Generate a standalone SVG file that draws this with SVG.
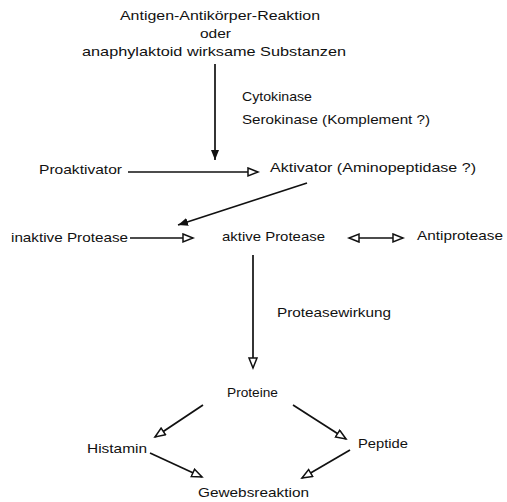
<svg xmlns="http://www.w3.org/2000/svg" width="507" height="502" viewBox="0 0 507 502">
<style>
text{font-family:"Liberation Sans",Arial,sans-serif;font-size:13.5px;fill:#111}
.c line{stroke:#111;stroke-width:1.7}
</style>
<defs>
<marker id="fh" markerUnits="userSpaceOnUse" markerWidth="12" markerHeight="10" refX="10" refY="4" orient="auto"><path d="M0,0 L10,4 L0,8 Z" fill="#111"/></marker>
<marker id="oh" markerUnits="userSpaceOnUse" markerWidth="14" markerHeight="12" refX="11" refY="5" orient="auto-start-reverse"><path d="M1,1 L11,5 L1,9 Z" fill="#fff" stroke="#111" stroke-width="1.5"/></marker>
</defs>
<rect width="507" height="502" fill="#fff"/>
<g id="n-start">
<text x="120" y="20" textLength="200" lengthAdjust="spacingAndGlyphs">Antigen-Antikörper-Reaktion</text>
<text x="200" y="38" textLength="31" lengthAdjust="spacingAndGlyphs">oder</text>
<text x="82" y="56" textLength="264" lengthAdjust="spacingAndGlyphs">anaphylaktoid wirksame Substanzen</text>
</g>
<g id="n-kinase">
<text x="242" y="101" textLength="70" lengthAdjust="spacingAndGlyphs">Cytokinase</text>
<text x="242" y="124" textLength="188" lengthAdjust="spacingAndGlyphs">Serokinase (Komplement ?)</text>
</g>
<g id="n-proaktivator"><text x="39" y="174" textLength="83" lengthAdjust="spacingAndGlyphs">Proaktivator</text></g>
<g id="n-aktivator"><text x="270" y="172" textLength="206" lengthAdjust="spacingAndGlyphs">Aktivator (Aminopeptidase ?)</text></g>
<g id="n-inaktiv"><text x="11" y="242" textLength="117" lengthAdjust="spacingAndGlyphs">inaktive Protease</text></g>
<g id="n-aktiv"><text x="222" y="241" textLength="103" lengthAdjust="spacingAndGlyphs">aktive Protease</text></g>
<g id="n-antiprotease"><text x="417" y="240" textLength="86" lengthAdjust="spacingAndGlyphs">Antiprotease</text></g>
<g id="n-wirkung"><text x="277" y="317" textLength="114" lengthAdjust="spacingAndGlyphs">Proteasewirkung</text></g>
<g id="n-proteine"><text x="227" y="397" textLength="51" lengthAdjust="spacingAndGlyphs">Proteine</text></g>
<g id="n-histamin"><text x="87" y="453" textLength="60" lengthAdjust="spacingAndGlyphs">Histamin</text></g>
<g id="n-peptide"><text x="358" y="448" textLength="50" lengthAdjust="spacingAndGlyphs">Peptide</text></g>
<g id="n-gewebs"><text x="198" y="497" textLength="111" lengthAdjust="spacingAndGlyphs">Gewebsreaktion</text></g>
<g id="connectors" class="c">
<line x1="215" y1="64" x2="215" y2="160" marker-end="url(#fh)"/>
<line x1="128" y1="172" x2="258" y2="172" marker-end="url(#oh)"/>
<line x1="307" y1="183" x2="178" y2="225" marker-end="url(#fh)"/>
<line x1="130" y1="238" x2="193" y2="238" marker-end="url(#oh)"/>
<line x1="349" y1="238" x2="403" y2="238" marker-start="url(#oh)" marker-end="url(#oh)"/>
<line x1="253" y1="255" x2="253" y2="368" marker-end="url(#oh)"/>
<line x1="203" y1="405" x2="155" y2="437" marker-end="url(#oh)"/>
<line x1="293" y1="405" x2="346" y2="439" marker-end="url(#oh)"/>
<line x1="150" y1="453" x2="202" y2="477" marker-end="url(#oh)"/>
<line x1="350" y1="450" x2="302" y2="478" marker-end="url(#oh)"/>
</g>
</svg>
